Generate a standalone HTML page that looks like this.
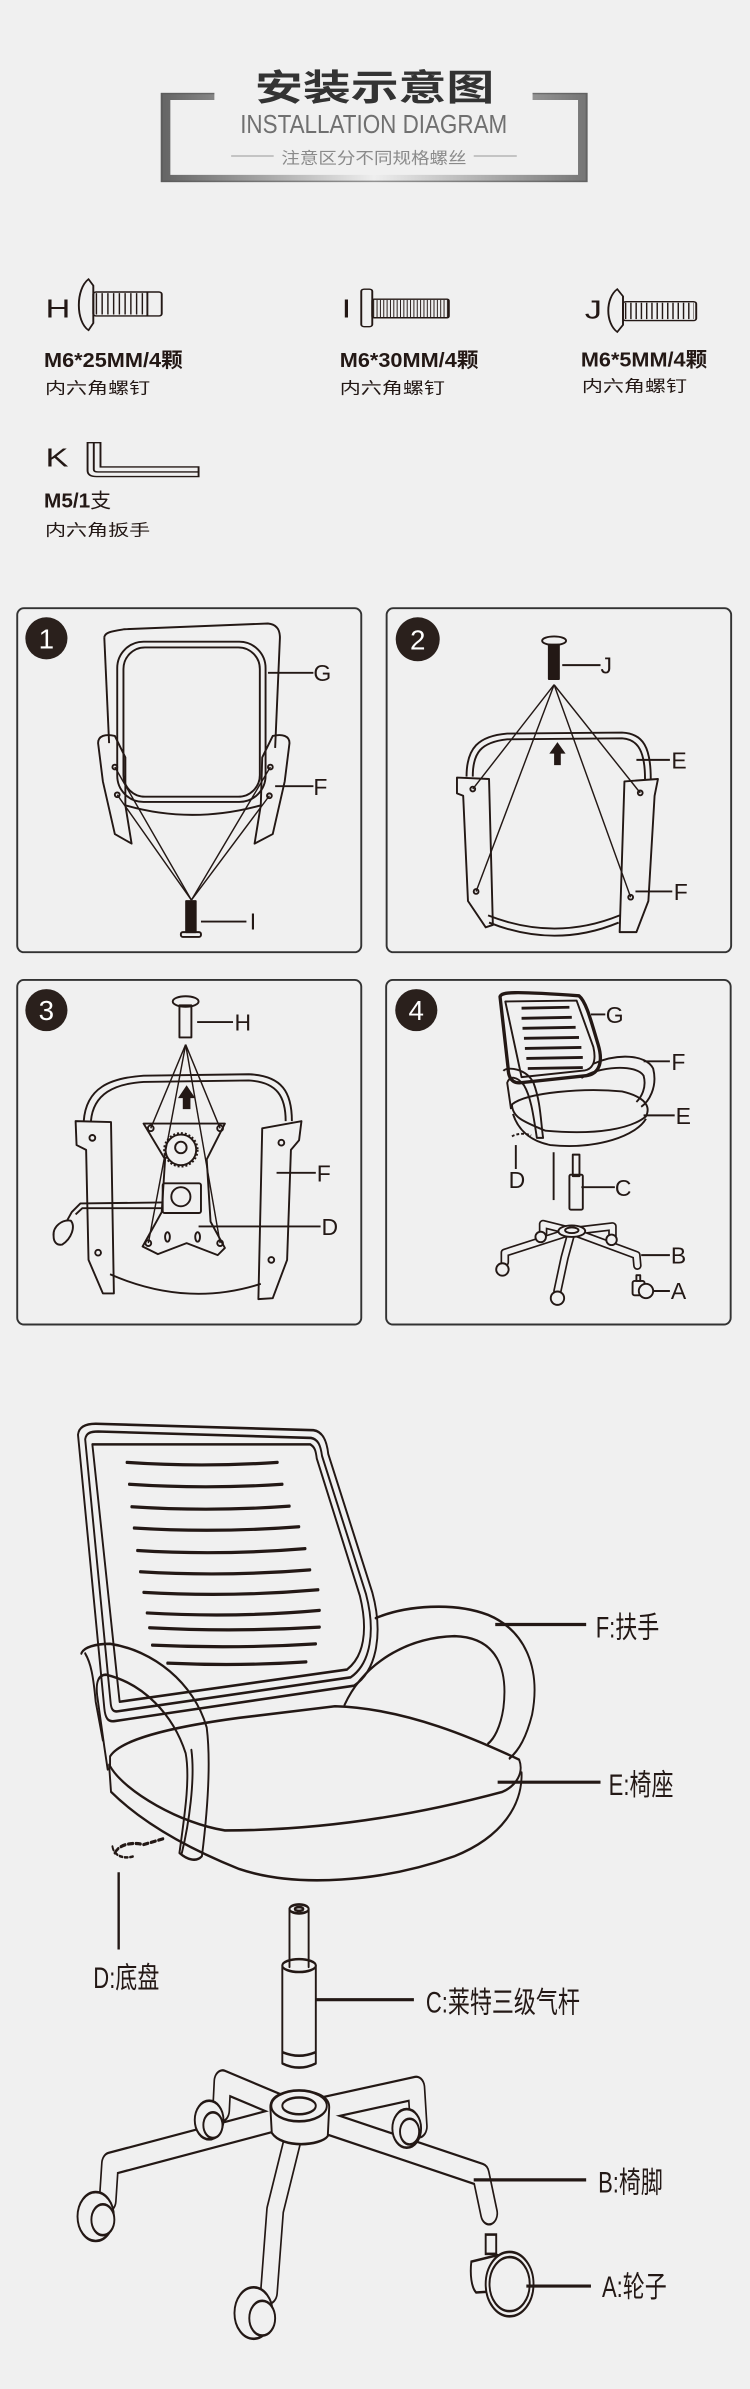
<!DOCTYPE html>
<html><head><meta charset="utf-8"><style>
html,body{margin:0;padding:0;background:#f0f0f0;}
svg{display:block}
text{font-family:"Liberation Sans","Noto Sans CJK SC",sans-serif;fill:#231815}
</style></head><body>
<svg width="750" height="2389" viewBox="0 0 750 2389" xmlns="http://www.w3.org/2000/svg">
<defs>
<linearGradient id="gb" x1="0" x2="1" y1="0" y2="0">
<stop offset="0" stop-color="#666"/><stop offset="0.5" stop-color="#eee"/><stop offset="1" stop-color="#777"/>
</linearGradient>
</defs>
<rect width="750" height="2389" fill="#f0f0f0"/>

<!-- HEADER & SCREWS (zoom coords) -->
<g transform="scale(0.4785,0.357)">
 <path d="M448,270 H346 V500 H1218 V270 H1113" fill="none" stroke="url(#gb)" stroke-width="20"/>
 <path d="M448,262 H338 V508 H1226 V262 H1113" fill="none" stroke="#555" stroke-width="4" opacity="0.6"/>
 <text x="783" y="280" font-size="100" font-weight="bold" text-anchor="middle" style="fill:#333">安装示意图</text>
 <text x="502" y="372" font-size="72" textLength="558" lengthAdjust="spacingAndGlyphs" style="fill:#707070">INSTALLATION DIAGRAM</text>
 <line x1="483" y1="437" x2="572" y2="437" stroke="#999" stroke-width="3"/>
 <line x1="990" y1="437" x2="1080" y2="437" stroke="#999" stroke-width="3"/>
 <text x="588" y="458" font-size="44" textLength="387" lengthAdjust="spacingAndGlyphs" style="fill:#8a8a8a">注意区分不同规格螺丝</text>

 <g fill="none" stroke="#231815" stroke-width="4">
  <path d="M185,782 C158,810 158,900 185,925 L195,905 L195,800 Z"/>
  <rect x="195" y="818" width="143" height="67" rx="6"/>
  <line x1="200" y1="851" x2="305" y2="851" stroke-width="60" stroke-dasharray="3 9"/>
  <line x1="308" y1="818" x2="308" y2="885"/>
  <rect x="755" y="810" width="23" height="105" rx="6"/>
  <rect x="778" y="838" width="160" height="52" rx="4"/>
  <line x1="780" y1="864" x2="936" y2="864" stroke-width="48" stroke-dasharray="2 5"/>
  <path d="M1290,810 C1265,835 1265,905 1290,930 L1302,910 L1302,830 Z"/>
  <rect x="1302" y="845" width="153" height="53" rx="6"/>
  <line x1="1306" y1="871" x2="1450" y2="871" stroke-width="46" stroke-dasharray="3 8"/>
  <path d="M183,1240 V1318 Q183,1335 202,1335 H415 V1308 H210 V1240 Z"/>
  <path d="M196,1240 V1315 Q196,1322 205,1322 H415"/>
 </g>
 <g font-size="72">
  <text x="95" y="890">H</text>
  <text x="714" y="890">I</text>
  <text x="1222" y="892">J</text>
  <text x="95" y="1307">K</text>
 </g>
 <g font-size="56" font-weight="bold">
  <text x="92" y="1028" textLength="290" lengthAdjust="spacingAndGlyphs">M6*25MM/4颗</text>
  <text x="710" y="1028" textLength="290" lengthAdjust="spacingAndGlyphs">M6*30MM/4颗</text>
  <text x="1214" y="1026" textLength="264" lengthAdjust="spacingAndGlyphs">M6*5MM/4颗</text>
  <text x="92" y="1422" textLength="140" lengthAdjust="spacingAndGlyphs">M5/1<tspan font-weight="normal">支</tspan></text>
 </g>
 <g font-size="44">
  <text x="94" y="1102">内六角螺钉</text>
  <text x="710" y="1102">内六角螺钉</text>
  <text x="1216" y="1096">内六角螺钉</text>
  <text x="94" y="1500">内六角扳手</text>
 </g>
</g>

<!-- PANELS -->
<g transform="translate(0,590) scale(0.4785)">
 <g fill="none" stroke="#333" stroke-width="4">
  <rect x="36" y="38" width="719" height="719" rx="14"/>
  <rect x="808" y="38" width="720" height="719" rx="14"/>
  <rect x="36" y="815" width="719" height="720" rx="14"/>
  <rect x="807" y="815" width="720" height="720" rx="14"/>
 </g>
 <g fill="#2a201c">
  <circle cx="97" cy="101" r="44"/><circle cx="873" cy="103" r="46"/>
  <circle cx="97" cy="878" r="44"/><circle cx="870" cy="878" r="44"/>
 </g>
 <g font-size="58" text-anchor="middle">
  <text x="97" y="122" style="fill:#fff">1</text><text x="873" y="124" style="fill:#fff">2</text>
  <text x="97" y="899" style="fill:#fff">3</text><text x="870" y="899" style="fill:#fff">4</text>
 </g>
 <g fill="none" stroke="#231815" stroke-width="4" stroke-linejoin="round">
  <path d="M218,100 C218,88 235,86 260,82 L560,70 C580,72 585,85 585,100 L575,330"/>
  <path d="M218,100 L228,320"/>
  <rect x="245" y="108" width="310" height="335" rx="55"/>
  <rect x="258" y="120" width="285" height="312" rx="45"/>
  <path d="M205,320 C205,305 220,300 240,305 L262,350 L262,450 L275,530 L240,510 L215,400 Z"/>
  <path d="M605,320 C605,305 590,300 570,305 L548,350 L545,450 L532,530 L570,510 L595,400 Z"/>
  <path d="M262,450 Q400,490 545,450"/>
  <circle cx="240" cy="370" r="5"/><circle cx="245" cy="428" r="5"/><circle cx="565" cy="370" r="5"/><circle cx="563" cy="430" r="5"/>
  <g stroke-width="3"><line x1="240" y1="370" x2="400" y2="648"/><line x1="245" y1="428" x2="400" y2="648"/><line x1="565" y1="370" x2="400" y2="648"/><line x1="563" y1="430" x2="400" y2="648"/></g>
  <rect x="389" y="650" width="20" height="65" fill="#231815"/>
  <rect x="378" y="715" width="42" height="10" rx="4"/>
  <line x1="420" y1="693" x2="515" y2="693"/><line x1="560" y1="173" x2="655" y2="173"/><line x1="575" y1="410" x2="655" y2="410"/>
  <ellipse cx="1158" cy="106" rx="25" ry="9"/>
  <rect x="1147" y="114" width="21" height="72" fill="#231815"/>
  <g stroke-width="3"><line x1="1158" y1="198" x2="988" y2="416"/><line x1="1158" y1="198" x2="995" y2="630"/><line x1="1158" y1="198" x2="1338" y2="424"/><line x1="1158" y1="198" x2="1318" y2="642"/></g>
  <path d="M975,390 C975,330 1000,305 1060,300 L1300,298 C1345,300 1360,330 1360,395"/>
  <path d="M988,390 C988,340 1005,318 1060,312 L1300,310 C1335,312 1348,340 1348,395"/>
  <path d="M1020,680 Q1160,735 1295,680"/><path d="M1022,695 Q1160,750 1293,695"/>
  <path d="M955,392 L1022,395 L1030,700 L1015,705 L978,650 L968,430 L955,425 Z"/>
  <path d="M1305,400 L1375,395 L1368,430 L1355,650 L1330,715 L1295,715 Z"/>
  <circle cx="988" cy="416" r="5"/><circle cx="995" cy="630" r="5"/><circle cx="1338" cy="424" r="5"/><circle cx="1318" cy="642" r="5"/>
  <line x1="1175" y1="157" x2="1255" y2="157"/><line x1="1330" y1="355" x2="1400" y2="355"/><line x1="1328" y1="630" x2="1405" y2="630"/>
  <ellipse cx="388" cy="860" rx="27" ry="11"/>
  <rect x="375" y="868" width="25" height="67"/>
  <g stroke-width="3"><line x1="388" y1="950" x2="315" y2="1125"/><line x1="388" y1="950" x2="460" y2="1125"/><line x1="388" y1="950" x2="310" y2="1365"/><line x1="388" y1="950" x2="460" y2="1365"/></g>
  <path d="M175,1110 C180,1040 230,1020 300,1015 L520,1012 C590,1015 610,1050 610,1110"/>
  <path d="M190,1110 C195,1052 240,1032 300,1028 L520,1025 C580,1028 597,1060 597,1110"/>
  <path d="M230,1430 Q390,1500 545,1450"/>
  <path d="M158,1110 L232,1112 L238,1470 L215,1470 L185,1400 L180,1170 L160,1160 Z"/>
  <path d="M548,1125 L630,1110 L625,1150 L608,1170 L600,1400 L570,1480 L540,1482 Z"/>
  <circle cx="193" cy="1145" r="6"/><circle cx="205" cy="1385" r="6"/><circle cx="588" cy="1155" r="6"/><circle cx="567" cy="1400" r="6"/>
  <path d="M300,1115 L470,1115 L432,1190 L440,1320 L470,1375 L455,1390 L390,1365 L330,1388 L298,1372 L338,1300 L345,1190 Z"/>
  <circle cx="315" cy="1125" r="6"/><circle cx="460" cy="1125" r="6"/><circle cx="310" cy="1365" r="6"/><circle cx="460" cy="1365" r="6"/>
  <circle cx="378" cy="1170" r="32"/><circle cx="378" cy="1170" r="34" stroke-dasharray="4 4" stroke-width="6"/><circle cx="378" cy="1165" r="12"/>
  <rect x="340" y="1240" width="80" height="62" rx="4"/><circle cx="378" cy="1268" r="20"/>
  <ellipse cx="350" cy="1352" rx="5" ry="10"/><ellipse cx="413" cy="1352" rx="5" ry="10"/>
  <path d="M340,1280 L168,1282 L150,1300 L140,1318"/><path d="M340,1292 L172,1292 L158,1305"/>
  <path d="M112,1350 C110,1330 130,1315 148,1318 C158,1330 150,1355 130,1368 C118,1370 112,1362 112,1350 Z"/>
  <line x1="578" y1="1218" x2="660" y2="1218"/><line x1="415" y1="1330" x2="670" y2="1330"/><line x1="412" y1="903" x2="487" y2="903"/>
  <path d="M1045,850 C1048,840 1070,838 1210,848 C1225,860 1235,900 1250,950 C1262,990 1250,1012 1225,1015 L1085,1030 C1065,1030 1062,1010 1062,1000 Z" stroke-width="7"/>
  <path d="M1056,860 L1205,858 L1240,955 C1248,990 1235,1002 1222,1004 L1090,1018 Z"/>
  <g stroke-width="6"><line x1="1090" y1="874" x2="1190" y2="872"/><line x1="1090" y1="895" x2="1195" y2="893"/><line x1="1092" y1="916" x2="1203" y2="914"/><line x1="1095" y1="937" x2="1210" y2="935"/><line x1="1097" y1="958" x2="1215" y2="956"/><line x1="1100" y1="979" x2="1218" y2="977"/><line x1="1103" y1="1000" x2="1218" y2="998"/></g>
  <path d="M1240,990 C1290,968 1350,970 1365,1000 C1375,1040 1355,1070 1340,1080"/>
  <path d="M1215,1020 C1250,995 1330,990 1345,1015 C1352,1040 1340,1060 1330,1070"/>
  <path d="M1070,1075 C1100,1050 1220,1040 1300,1048 C1350,1060 1360,1080 1350,1100 C1320,1125 1250,1140 1140,1130 C1090,1110 1070,1100 1070,1075 Z"/>
  <path d="M1072,1095 C1080,1120 1100,1150 1150,1160 C1250,1170 1330,1140 1350,1105"/>
  <path d="M1052,1005 C1060,995 1100,1000 1115,1030 C1130,1070 1130,1110 1135,1145 L1122,1145 C1115,1100 1110,1060 1095,1035 C1080,1015 1065,1015 1060,1030 L1068,1085"/>
  <path d="M1070,1142 C1080,1135 1100,1135 1110,1140" stroke-dasharray="6 4"/>
  <line x1="1078" y1="1160" x2="1078" y2="1210"/><line x1="1157" y1="1175" x2="1157" y2="1275"/>
  <rect x="1197" y="1180" width="14" height="45"/><rect x="1190" y="1222" width="28" height="73" rx="3"/>
  <g stroke-width="18" stroke-linecap="round" stroke="#231815"><path d="M1195,1340 L1135,1325 L1135,1345"/><path d="M1195,1340 L1280,1330 L1280,1350"/><path d="M1195,1340 L1055,1385 L1055,1405"/><path d="M1195,1340 L1180,1395 L1165,1465"/><path d="M1195,1340 L1330,1390 L1332,1412"/></g>
  <g stroke-width="11" stroke-linecap="round" stroke="#f0f0f0"><path d="M1195,1340 L1135,1325 L1135,1345"/><path d="M1195,1340 L1280,1330 L1280,1350"/><path d="M1195,1340 L1055,1385 L1055,1405"/><path d="M1195,1340 L1180,1395 L1165,1465"/><path d="M1195,1340 L1330,1390 L1332,1412"/></g>
  <ellipse cx="1195" cy="1340" rx="28" ry="12" fill="#f0f0f0"/><ellipse cx="1195" cy="1338" rx="14" ry="6"/>
  <circle cx="1130" cy="1352" r="11" fill="#f0f0f0"/><circle cx="1278" cy="1358" r="11" fill="#f0f0f0"/><circle cx="1050" cy="1420" r="13" fill="#f0f0f0"/><circle cx="1165" cy="1480" r="14" fill="#f0f0f0"/>
  <rect x="1330" y="1432" width="8" height="12"/><rect x="1322" y="1444" width="25" height="30" rx="4"/><circle cx="1350" cy="1465" r="15" fill="#f0f0f0"/>
  <line x1="1235" y1="887" x2="1265" y2="887"/><line x1="1345" y1="985" x2="1400" y2="985"/><line x1="1345" y1="1098" x2="1410" y2="1098"/><line x1="1215" y1="1248" x2="1285" y2="1248"/><line x1="1340" y1="1390" x2="1400" y2="1390"/><line x1="1365" y1="1465" x2="1400" y2="1465"/>
 </g>
 <path d="M1165,318 L1148,342 L1158,342 L1158,366 L1172,366 L1172,342 L1182,342 Z" fill="#231815"/>
 <path d="M390,1035 L372,1062 L382,1062 L382,1085 L398,1085 L398,1062 L408,1062 Z" fill="#231815"/>
 <g font-size="48">
  <text x="655" y="190">G</text><text x="655" y="428">F</text><text x="522" y="710">I</text>
  <text x="1255" y="175">J</text><text x="1403" y="373">E</text><text x="1408" y="648">F</text>
  <text x="490" y="921">H</text><text x="662" y="1236">F</text><text x="672" y="1348">D</text>
  <text x="1266" y="905">G</text><text x="1403" y="1003">F</text><text x="1412" y="1116">E</text><text x="1063" y="1250">D</text><text x="1285" y="1266">C</text><text x="1402" y="1408">B</text><text x="1402" y="1482">A</text>
 </g>
</g>

<!-- BIG CHAIR -->
<g transform="translate(0,1380) scale(0.4785,0.6435)">
 <g fill="none" stroke="#231815" stroke-width="4" stroke-linejoin="round" stroke-linecap="round">
  <path d="M163,85 C165,72 180,68 200,68 L655,78 C675,80 683,95 686,115 L778,330 C800,390 790,450 740,475 L240,530 C225,532 220,525 218,510 Z"/>
  <path d="M178,92 C180,82 190,80 205,80 L650,90 C665,92 670,102 673,118 L765,333 C785,390 775,440 733,462 L245,515 C235,516 232,510 231,500 Z"/>
  <path d="M193,100 L648,100 C658,104 660,110 662,122 L752,335 C770,390 760,430 725,450 L250,500 Z"/>
  <g stroke-width="5">
   <path d="M265,128 Q420,136 580,128"/><path d="M270,162 Q430,170 590,162"/><path d="M275,197 Q440,205 605,196"/><path d="M280,230 Q450,238 625,228"/>
   <path d="M287,265 Q460,273 638,262"/><path d="M293,298 Q470,306 648,295"/><path d="M300,330 Q480,338 665,326"/><path d="M307,362 Q490,370 668,358"/>
   <path d="M312,385 Q490,392 668,384"/><path d="M318,412 Q490,418 660,410"/><path d="M350,440 Q500,445 640,438"/>
  </g>
  <path d="M785,370 C850,350 950,345 1020,365 C1100,390 1130,450 1112,520 C1100,555 1085,575 1065,588"/>
  <path d="M720,505 C760,440 850,400 950,398 C1040,400 1062,450 1052,510 C1046,540 1032,558 1020,565"/>
  <path d="M230,585 C250,560 350,540 500,525 L700,507 C850,510 1000,560 1085,590 C1095,610 1080,630 1050,640 C900,670 700,700 470,700 C380,690 260,640 230,600 Z"/>
  <path d="M228,598 L232,640 C300,690 400,730 500,760 C620,790 800,780 950,740 C1050,710 1092,660 1090,610"/>
  <path d="M170,425 C175,415 200,410 230,410 C320,420 405,470 432,540 C442,600 432,680 422,740 C410,750 390,745 375,735 C385,680 398,620 388,580 C362,520 300,472 222,458 C205,458 200,470 203,490 L218,570 L225,605"/>
  <path d="M178,425 C190,440 195,460 200,500 L215,560"/>
  <path d="M380,735 C395,690 408,620 400,575"/>
  <path d="M240,735 C250,720 280,718 300,722 L345,712" stroke-dasharray="10 6" stroke-width="5"/>
  <path d="M235,725 C238,740 260,745 280,740" stroke-dasharray="6 5"/>
  <ellipse cx="625" cy="822" rx="20" ry="7"/><ellipse cx="625" cy="822" rx="9" ry="3"/>
  <path d="M605,822 V912 M645,822 V912"/>
  <ellipse cx="625" cy="910" rx="35" ry="10"/>
  <path d="M590,910 V1062 Q625,1075 660,1062 V910"/>
  <path d="M592,1045 Q625,1055 658,1045"/>
 </g>
 <g fill="none" stroke-linecap="round" stroke-linejoin="round">
  <g stroke="#231815" stroke-width="38">
   <path d="M625,1140 L465,1090 L462,1135"/><path d="M625,1140 L870,1100 L875,1160"/><path d="M625,1140 L230,1218 L225,1275"/><path d="M625,1140 L575,1290 L562,1418"/><path d="M625,1140 L1005,1235 L1022,1295"/>
  </g>
  <g stroke="#f0f0f0" stroke-width="31">
   <path d="M625,1140 L465,1090 L462,1135"/><path d="M625,1140 L870,1100 L875,1160"/><path d="M625,1140 L230,1218 L225,1275"/><path d="M625,1140 L575,1290 L562,1418"/><path d="M625,1140 L1005,1235 L1022,1295"/>
  </g>
 </g>
 <g fill="#f0f0f0" stroke="#231815" stroke-width="4">
  <path d="M565,1130 C565,1110 600,1105 625,1105 C655,1105 688,1112 688,1130 L685,1175 C670,1190 590,1195 568,1170 Z"/>
  <ellipse cx="625" cy="1128" rx="58" ry="24"/><ellipse cx="625" cy="1128" rx="35" ry="13"/>
  <circle cx="437" cy="1150" r="30"/><circle cx="445" cy="1158" r="20"/>
  <circle cx="850" cy="1163" r="30"/><circle cx="856" cy="1168" r="20"/>
  <circle cx="200" cy="1300" r="38"/><circle cx="215" cy="1305" r="24"/>
  <circle cx="530" cy="1450" r="40"/><circle cx="548" cy="1458" r="27"/>
  <rect x="1015" y="1328" width="22" height="30"/>
  <path d="M985,1370 L1040,1360 L1060,1375 L1060,1415 L995,1418 C985,1410 982,1390 985,1370 Z"/>
  <circle cx="1065" cy="1405" r="50"/><circle cx="1065" cy="1405" r="42"/>
 </g>
 <g stroke="#231815" stroke-width="5">
  <line x1="1035" y1="380" x2="1225" y2="380"/><line x1="1040" y1="625" x2="1255" y2="625"/>
  <line x1="248" y1="765" x2="248" y2="885"/><line x1="660" y1="963" x2="865" y2="963"/>
  <line x1="990" y1="1243" x2="1225" y2="1243"/><line x1="1100" y1="1408" x2="1235" y2="1408"/>
 </g>
 <g font-size="46">
  <text x="1245" y="400">F:扶手</text><text x="1272" y="645">E:椅座</text><text x="195" y="945">D:底盘</text>
  <text x="890" y="983">C:莱特三级气杆</text><text x="1250" y="1263">B:椅脚</text><text x="1258" y="1425">A:轮子</text>
 </g>
</g>
</svg>
</body></html>
